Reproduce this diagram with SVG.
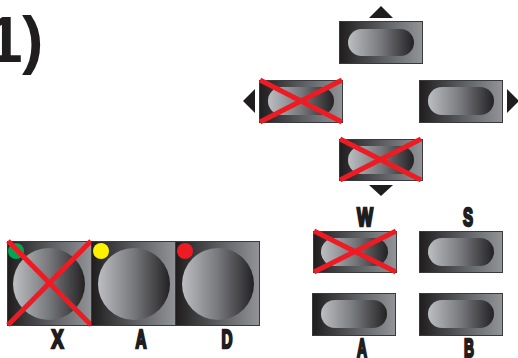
<svg xmlns="http://www.w3.org/2000/svg" width="518" height="358" viewBox="0 0 518 358">
<defs>
<linearGradient id="bg" x1="0" x2="1" y1="0" y2="0"><stop offset="0" stop-color="#1f1d1e"/><stop offset="0.5" stop-color="#5a5b5e"/><stop offset="1" stop-color="#929497"/></linearGradient>
<linearGradient id="fg" x1="0" x2="1" y1="0" y2="0"><stop offset="0" stop-color="#bcbec2"/><stop offset="0.5" stop-color="#77787c"/><stop offset="1" stop-color="#232123"/></linearGradient>
</defs>
<style>
.frame{fill:url(#bg);stroke:#3a3a3c;stroke-width:1}
.knob{fill:url(#fg)}
.x{stroke:#ed1c24;stroke-width:5;stroke-linecap:butt;fill:none}
.arrow{fill:#1f1d1e}
text{font-family:"Liberation Sans",Arial,sans-serif;font-weight:700;fill:#1f1d1e}
.lab{font-size:25px;text-anchor:middle;stroke:#1f1d1e;stroke-width:2.4}
.big{font-size:64px}
</style>
<text class="big" x="-13" y="62">1</text>
<text class="big" x="22" y="62">)</text>
<g id="arrows">
<polygon class="arrow" points="381,6 393,18 369,18"/>
<polygon class="arrow" points="243,101 255,89 255,113"/>
<polygon class="arrow" points="519,101 507,89 507,113"/>
<polygon class="arrow" points="381,196 369,185 393,185"/>
</g>
<g id="up"><rect class="frame" x="339.500" y="21.500" width="83" height="42"/><rect class="knob" x="348" y="29" width="66" height="27" rx="13.500"/></g>
<g id="left"><rect class="frame" x="259.500" y="80.500" width="83" height="42"/><rect class="knob" x="268" y="87" width="66" height="28" rx="14"/><path class="x" d="M260 80L342 122M260 122L342 80"/></g>
<g id="right"><rect class="frame" x="419.500" y="80.500" width="83" height="42"/><rect class="knob" x="428" y="87" width="66" height="28" rx="14"/></g>
<g id="down"><rect class="frame" x="339.500" y="139.500" width="83" height="41"/><rect class="knob" x="348" y="146" width="66" height="28" rx="14"/><path class="x" d="M340 139L421 180M340 180L421 139"/></g>
<g id="w"><rect class="frame" x="313.500" y="231.500" width="83" height="41"/><rect class="knob" x="321" y="238" width="67" height="28" rx="14"/><path class="x" d="M314 231L396 272M314 272L396 231"/><text class="lab" x="365" y="226" textLength="16" lengthAdjust="spacingAndGlyphs">W</text></g>
<g id="s"><rect class="frame" x="419.500" y="231.500" width="83" height="41"/><rect class="knob" x="428" y="238" width="66" height="28" rx="14"/><text class="lab" x="468" y="226" textLength="10" lengthAdjust="spacingAndGlyphs">S</text></g>
<g id="a2"><rect class="frame" x="312.500" y="293.500" width="83" height="42"/><rect class="knob" x="321" y="300" width="66" height="28" rx="14"/><text class="lab" x="362" y="357" textLength="10" lengthAdjust="spacingAndGlyphs">A</text></g>
<g id="b2"><rect class="frame" x="419.500" y="293.500" width="83" height="42"/><rect class="knob" x="428" y="300" width="66" height="28" rx="14"/><text class="lab" x="469" y="357" textLength="10" lengthAdjust="spacingAndGlyphs">B</text></g>
<g id="x-pad"><rect class="frame" x="7.500" y="241.500" width="84" height="84"/><circle cx="49" cy="284" r="36" class="knob"/><circle cx="16" cy="251" r="8" fill="#00a651"/><path class="x" d="M8 241L91 325M8 325L91 241"/><text class="lab" x="57.500" y="348" textLength="12" lengthAdjust="spacingAndGlyphs">X</text></g>
<g id="a-pad"><rect class="frame" x="91.500" y="241.500" width="84" height="84"/><circle cx="134" cy="284" r="36" class="knob"/><circle cx="101" cy="251" r="8" fill="#fff200"/><text class="lab" x="141" y="348" textLength="11" lengthAdjust="spacingAndGlyphs">A</text></g>
<g id="d-pad"><rect class="frame" x="175.500" y="241.500" width="84" height="84"/><circle cx="218" cy="284" r="36" class="knob"/><circle cx="185" cy="251" r="8" fill="#ed1c24"/><text class="lab" x="227" y="348" textLength="11" lengthAdjust="spacingAndGlyphs">D</text></g>
</svg>
